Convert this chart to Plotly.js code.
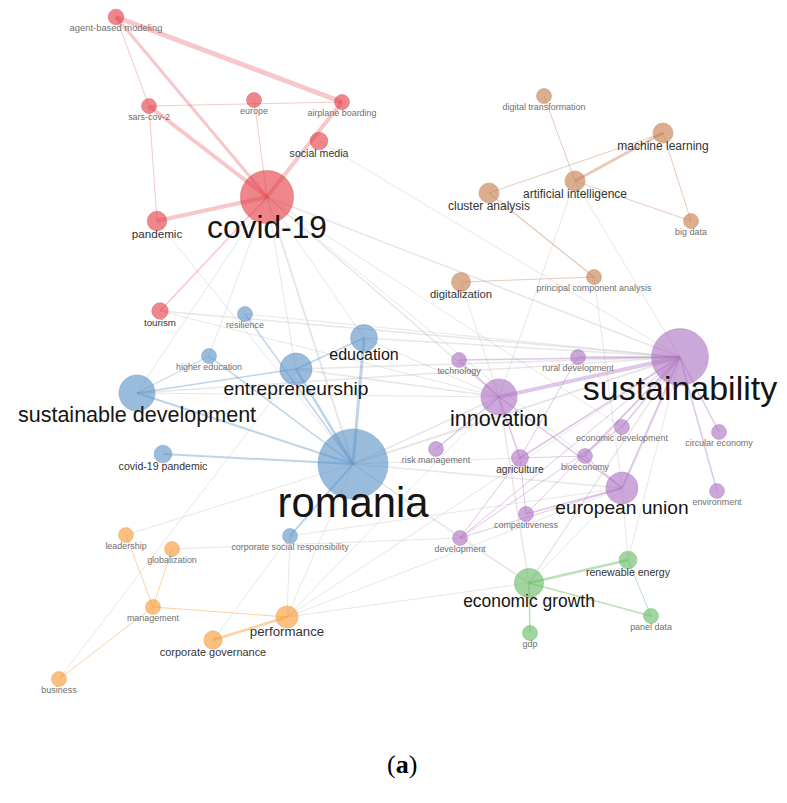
<!DOCTYPE html>
<html>
<head>
<meta charset="utf-8">
<script src="https://cdn.plot.ly/plotly-3.0.1.min.js"></script>
<style>html,body{margin:0;padding:0;background:#fff;}#chart{width:787px;height:803px;}</style>
</head>
<body>
<div id="chart"></div>
<script>
// ---- DATA ----
const clusterNames = ['cluster 1', 'cluster 2', 'cluster 3', 'cluster 4', 'cluster 5', 'cluster 6'];

const nodeLabels = [
  'agent-based modeling','sars-cov-2','europe','airplane boarding','social media','covid-19','pandemic','tourism',
  'digital transformation','machine learning','artificial intelligence','cluster analysis','big data','digitalization','principal component analysis',
  'resilience','education','higher education','entrepreneurship','sustainable development','covid-19 pandemic','romania','corporate social responsibility',
  'sustainability','technology','rural development','innovation','economic development','circular economy','risk management','agriculture','bioeconomy','european union','environment','competitiveness','development',
  'renewable energy','economic growth','panel data','gdp',
  'leadership','globalization','management','performance','corporate governance','business'
];
// map coordinates (VOSviewer-style layout)
const nodeX = [
  116,149,254,342,319,267,157,160,
  544,663,575,489,691,461,594,
  245,364,209,296,137,163,353,290,
  680,459,578,499,622,719,436,520,585,622,717,526,460,
  628,529,651,530,
  126,172,153,287,213,59
];
const nodeY = [
  17,106,100,102,141,197,221,311,
  96,133,181,193,221,282,277,
  314,338,356,369,393,454,464,536,
  357,360,357,397,427,432,449,458,456,488,491,514,538,
  560,583,616,633,
  535,549,607,617,640,679
];
const nodeCluster = [
  0,0,0,0,0,0,0,0,
  1,1,1,1,1,1,1,
  2,2,2,2,2,2,2,2,
  3,3,3,3,3,3,3,3,3,3,3,3,3,
  4,4,4,4,
  5,5,5,5,5,5
];
const nodeOccurrences = [
  5.5,5,5,5,7,63,8.5,6,
  5,9,9,9,5,8,5,
  5,16,5,23,29,7,109,5,
  72,5,5,29,5,5,5,6.5,5,23,5,5,5,
  7,19,5,5,
  5,5,5,11,7.5,5
];

// links: source, target, strength
const edgeSource = [
  'agent-based modeling','agent-based modeling','agent-based modeling','sars-cov-2','sars-cov-2','sars-cov-2','europe','airplane boarding','pandemic','tourism',
  'digital transformation','machine learning','machine learning','machine learning','artificial intelligence','cluster analysis','digitalization',
  'romania','romania','romania','romania','romania','romania','romania','sustainable development','sustainable development','entrepreneurship',
  'sustainability','sustainability','sustainability','sustainability','sustainability','sustainability','sustainability','sustainability','sustainability','sustainability','sustainability',
  'innovation','innovation','innovation','risk management','agriculture','agriculture','agriculture','agriculture','development','competitiveness','bioeconomy','economic development',
  'economic growth','economic growth','economic growth','renewable energy',
  'leadership','globalization','management','management','performance',
  'covid-19','covid-19','covid-19','covid-19','covid-19','covid-19','covid-19','pandemic','tourism','tourism',
  'artificial intelligence','artificial intelligence','principal component analysis','digitalization',
  'sustainable development','sustainable development','entrepreneurship','entrepreneurship','education','education','resilience',
  'romania','romania','romania','romania','romania','romania','romania','romania',
  'business','globalization','corporate social responsibility','corporate social responsibility','corporate governance',
  'performance','performance','performance','performance',
  'economic growth','economic growth','economic growth','economic growth','renewable energy','renewable energy','higher education',
  'social media','covid-19'
];
const edgeTarget = [
  'airplane boarding','covid-19','sars-cov-2','airplane boarding','covid-19','pandemic','covid-19','covid-19','covid-19','covid-19',
  'artificial intelligence','artificial intelligence','cluster analysis','big data','big data','principal component analysis','principal component analysis',
  'sustainable development','entrepreneurship','education','resilience','covid-19 pandemic','corporate social responsibility','higher education','entrepreneurship','higher education','education',
  'innovation','technology','rural development','economic development','circular economy','environment','european union','agriculture','bioeconomy','development','competitiveness',
  'technology','agriculture','european union','innovation','bioeconomy','rural development','competitiveness','development','european union','european union','european union','development',
  'renewable energy','panel data','gdp','panel data',
  'management','management','performance','business','corporate governance',
  'romania','sustainability','european union','innovation','entrepreneurship','education','sustainable development','romania','sustainability','innovation',
  'innovation','sustainability','european union','innovation',
  'sustainability','innovation','sustainability','innovation','sustainability','innovation','sustainability',
  'sustainability','innovation','european union','economic growth','performance','leadership','agriculture','development',
  'entrepreneurship','development','performance','european union','corporate social responsibility',
  'sustainability','innovation','economic growth','european union',
  'sustainability','innovation','european union','development','sustainability','european union','covid-19',
  'sustainability','economic development'
];
const edgeStrength = [
  5,3,1,1,4,1,1,4,4,1.5,
  1,3,1,1,1,1.3,1,
  2,2.5,3,1.5,2,2,1.5,1.5,1,1.5,
  4,1.5,1.5,1.5,1.5,1.5,2,1.5,1.5,1,1,
  1.5,1.5,1.5,1.5,1,1,1,1,1,1.5,1,1,
  2.5,1.5,1.5,1,
  1,1,1,1,2.5,
  2,1.5,1,1.5,1,1,1,1,1.5,1,
  1,1,1,1,
  1.5,1,1.5,1.5,1.5,1,1,
  2,1.5,1.5,1,1,1,1,1,
  1,1,1,1,1,
  1,1,1,1,
  1.5,1.5,1,1,1,1,1,
  1,1
];

// ---- STYLE ----
const nodeFill = ['rgba(228,54,63,0.85)','rgba(196,120,71,0.85)','rgba(86,143,199,0.85)','rgba(170,108,191,0.85)','rgba(96,186,96,0.85)','rgba(248,150,42,0.85)'];
const nodeEdge = ['rgba(200,40,50,0.5)','rgba(170,100,55,0.5)','rgba(70,120,175,0.5)','rgba(150,90,170,0.5)','rgba(70,160,70,0.5)','rgba(225,130,30,0.5)'];
const linkColor = ['rgba(232,84,92,0.33)','rgba(205,140,99,0.45)','rgba(111,160,207,0.45)','rgba(183,130,201,0.45)','rgba(120,196,120,0.5)','rgba(249,166,74,0.5)'];
const grayLink = 'rgba(170,170,170,0.28)';

const idx = {};
nodeLabels.forEach((n, i) => idx[n] = i);
const radius = nodeOccurrences.map(o => 3.35 * Math.sqrt(o));
const fontSize = nodeOccurrences.map(o => 4 * Math.sqrt(o));

const traces = [];
const order = [];
edgeSource.forEach((s, k) => {
  const a = idx[s], b = idx[edgeTarget[k]];
  order.push({k, same: nodeCluster[a] === nodeCluster[b]});
});
order.sort((p, q) => (p.same === q.same) ? 0 : (p.same ? 1 : -1));
order.forEach(({k, same}) => {
  const a = idx[edgeSource[k]], b = idx[edgeTarget[k]];
  traces.push({
    type: 'scatter', mode: 'lines',
    x: [nodeX[a], nodeX[b]], y: [nodeY[a], nodeY[b]],
    line: {color: same ? linkColor[nodeCluster[a]] : grayLink, width: edgeStrength[k]},
    hoverinfo: 'skip', showlegend: false
  });
});

traces.push({
  type: 'scatter', mode: 'markers',
  x: nodeX, y: nodeY,
  marker: {
    size: radius.map(r => 2 * r),
    color: nodeCluster.map(c => nodeFill[c]),
    line: {color: nodeCluster.map(c => nodeEdge[c]), width: 1}
  },
  hoverinfo: 'skip', showlegend: false
});

traces.push({
  type: 'scatter', mode: 'text',
  x: nodeX,
  y: nodeY.map((y, i) => y + radius[i] + 0.1 * fontSize[i] + 3),
  text: nodeLabels,
  textposition: 'middle center',
  textfont: {
    family: 'Liberation Sans, Arial, sans-serif',
    size: fontSize,
    color: fontSize.map(f => f < 9.5 ? '#707070' : (f < 15 ? '#333333' : '#151515'))
  },
  hoverinfo: 'skip', showlegend: false
});

const layout = {
  width: 787, height: 803,
  margin: {l: 0, r: 0, t: 0, b: 0},
  paper_bgcolor: '#ffffff', plot_bgcolor: '#ffffff',
  xaxis: {range: [0, 787], visible: false, fixedrange: true},
  yaxis: {range: [803, 0], visible: false, fixedrange: true},
  hovermode: false,
  showlegend: false,
  annotations: [{
    x: 0.511, y: 0.027, xref: 'paper', yref: 'paper',
    text: '(<b>a</b>)', showarrow: false,
    font: {family: 'Liberation Serif, Times New Roman, serif', size: 26, color: '#000'}
  }]
};

Plotly.newPlot('chart', traces, layout, {displayModeBar: false, staticPlot: true});
</script>
</body>
</html>
